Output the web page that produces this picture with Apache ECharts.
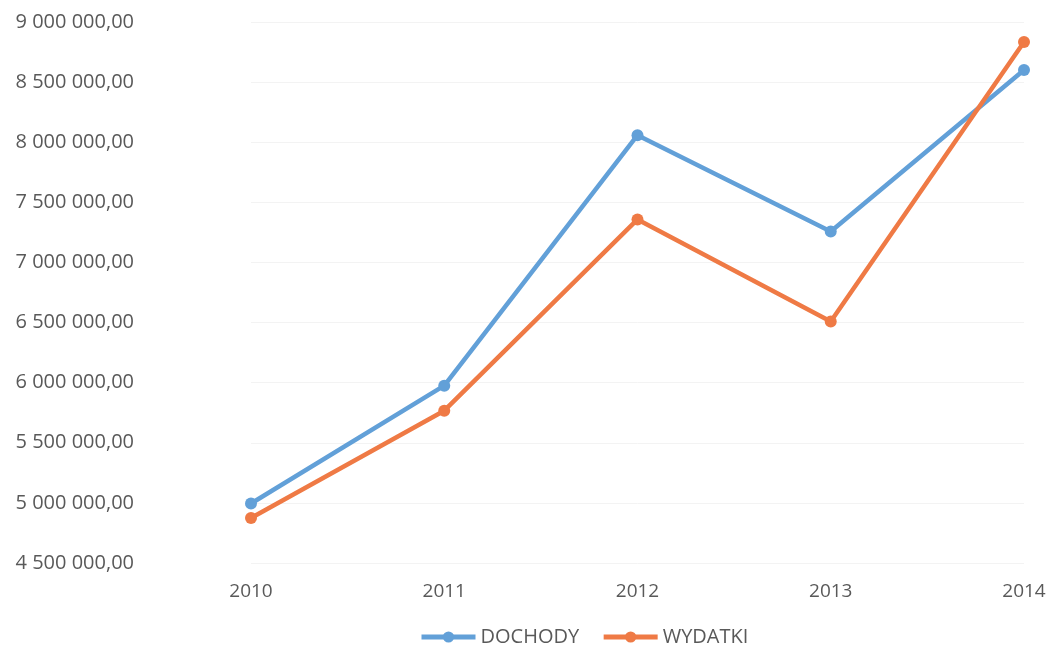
<!DOCTYPE html>
<html><head><meta charset="utf-8">
<script src="https://cdn.jsdelivr.net/npm/echarts@6/dist/echarts.min.js"></script>
<style>html,body{margin:0;padding:0;background:#fff}#c{width:1050px;height:652px}</style>
</head><body><div id="c"></div>
<script>
const years = ['2010','2011','2012','2013','2014'];
const dochody = [4995000, 5975000, 8058000, 7258000, 8600000];
const wydatki = [4875000, 5767000, 7358000, 6508000, 8833000];
const yMin = 4500000, yMax = 9000000, yStep = 500000;

function fmt(v){
  const s = Math.round(v).toString().replace(/\B(?=(\d{3})+(?!\d))/g,' ');
  return s + ',00';
}
const chart = echarts.init(document.getElementById('c'));
const font = '"Open Sans", "Liberation Sans", sans-serif';
chart.setOption({
  animation:false,
  grid:{left:251, right:26, top:22, bottom:89},
  xAxis:{type:'category', data:years, boundaryGap:false,
    axisLine:{show:false}, axisTick:{show:false},
    axisLabel:{color:'#595959', fontFamily:font, fontSize:19, margin:19}},
  yAxis:{type:'value', min:yMin, max:yMax, interval:yStep,
    axisLine:{show:false}, axisTick:{show:false},
    splitLine:{lineStyle:{color:'#f3f3f3', width:1}},
    axisLabel:{color:'#595959', fontFamily:font, fontSize:20, margin:117, formatter:fmt}},
  legend:{bottom:0, left:414, itemWidth:54, itemHeight:14, itemGap:22,
    textStyle:{color:'#595959', fontFamily:font, fontSize:20},
    lineStyle:{width:5},
    data:['DOCHODY','WYDATKI']},
  series:[
    {name:'DOCHODY', type:'line', data:dochody, symbol:'circle', symbolSize:12,
      lineStyle:{color:'#62A0D8', width:4.5}, itemStyle:{color:'#62A0D8'}},
    {name:'WYDATKI', type:'line', data:wydatki, symbol:'circle', symbolSize:12,
      lineStyle:{color:'#EF7A45', width:4.5}, itemStyle:{color:'#EF7A45'}}
  ]
});
</script></body></html>
